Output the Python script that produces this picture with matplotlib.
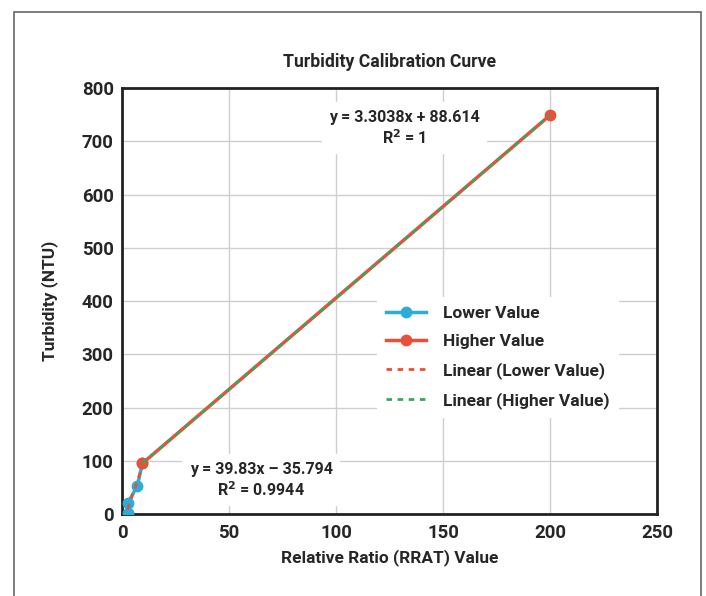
import matplotlib.pyplot as plt
import numpy as np
from matplotlib.patches import Rectangle

# values
lower_x = [2.6, 2.8, 7.2, 9.5]
lower_y = [2, 21, 53, 95]
higher_x = [9.5, 200]
higher_y = [95, 749]

x_ticks = [0, 50, 100, 150, 200, 250]
y_ticks = [0, 100, 200, 300, 400, 500, 600, 700, 800]

eq_higher = "y = 3.3038x + 88.614\nR$^2$ = 1"
eq_lower = "y = 39.83x \u2013 35.794\nR$^2$ = 0.9944"

BLUE = "#2badd8"
RED = "#e8503a"
GREEN = "#3aa65c"
TXT = "#262626"

plt.rcParams['font.family'] = ['Roboto', 'DejaVu Sans']
plt.rcParams['font.weight'] = 'bold'

fig = plt.figure(figsize=(7.06, 5.96), dpi=100)
ax = fig.add_axes([0.1728, 0.1376, 0.7578, 0.7147])

# frame around the whole figure (cut at the bottom)
fig.patches.append(Rectangle((14 / 706, -0.05), (701 - 14) / 706, 1 - 12 / 596 + 0.05,
                             transform=fig.transFigure, fill=False,
                             edgecolor="#666666", lw=1.2))

ax.plot(lower_x, lower_y, color=BLUE, lw=2.5, marker="o", ms=7.5,
        label="Lower Value", zorder=4)
ax.plot(higher_x, higher_y, color=RED, lw=2.5, marker="o", ms=7.5,
        label="Higher Value", zorder=5)

# linear trendlines fitted to each series
lo_fit = np.polyfit(lower_x, lower_y, 1)
hi_fit = np.polyfit(higher_x, higher_y, 1)
lo_xs = np.array([min(lower_x), max(lower_x)])
hi_xs = np.array([min(higher_x), max(higher_x)])
ax.plot(lo_xs, np.polyval(lo_fit, lo_xs), color=RED, lw=2,
        ls=(0, (2, 2)), label="Linear (Lower Value)", zorder=6)
ax.plot(hi_xs, np.polyval(hi_fit, hi_xs), color=GREEN, lw=2,
        ls=(0, (2, 2)), label="Linear (Higher Value)", zorder=6)

ax.set_xlim(0, 250)
ax.set_ylim(0, 800)
ax.set_xticks(x_ticks)
ax.set_yticks(y_ticks)
ax.tick_params(length=0, labelsize=13.4, labelcolor=TXT)
ax.tick_params(axis="x", pad=7)
ax.tick_params(axis="y", pad=6)
ax.grid(True, color="#cfcfcf", lw=1)
ax.set_axisbelow(True)
for s in ax.spines.values():
    s.set_linewidth(2)
    s.set_color("#222222")

ax.set_title("Turbidity Calibration Curve", fontsize=12.7, color=TXT, pad=15,
             fontweight="bold")
ax.set_xlabel("Relative Ratio (RRAT) Value", fontsize=12.4, color=TXT,
              labelpad=5, fontweight="bold")
ax.set_ylabel("Turbidity (NTU)", fontsize=12.4, color=TXT, labelpad=17,
              fontweight="bold")

box = dict(boxstyle="square,pad=0.45", fc="white", ec="none")
ax.text(132, 724, eq_higher, ha="center", va="center", fontsize=11.5,
        color=TXT, linespacing=1.25, bbox=box, zorder=3)
ax.text(65, 63, eq_lower, ha="center", va="center", fontsize=11.5,
        color=TXT, linespacing=1.25, bbox=box, zorder=3)

leg = ax.legend(loc="upper left", bbox_to_anchor=(0.461, 0.53), frameon=True,
                fontsize=12.5, labelspacing=0.75, handlelength=2.3,
                handletextpad=1.0, borderpad=0.5)
leg.get_frame().set_facecolor("white")
leg.get_frame().set_edgecolor("none")
leg.get_frame().set_alpha(1)
for t in leg.get_texts():
    t.set_color(TXT)

fig.savefig("out.png", dpi=100)
